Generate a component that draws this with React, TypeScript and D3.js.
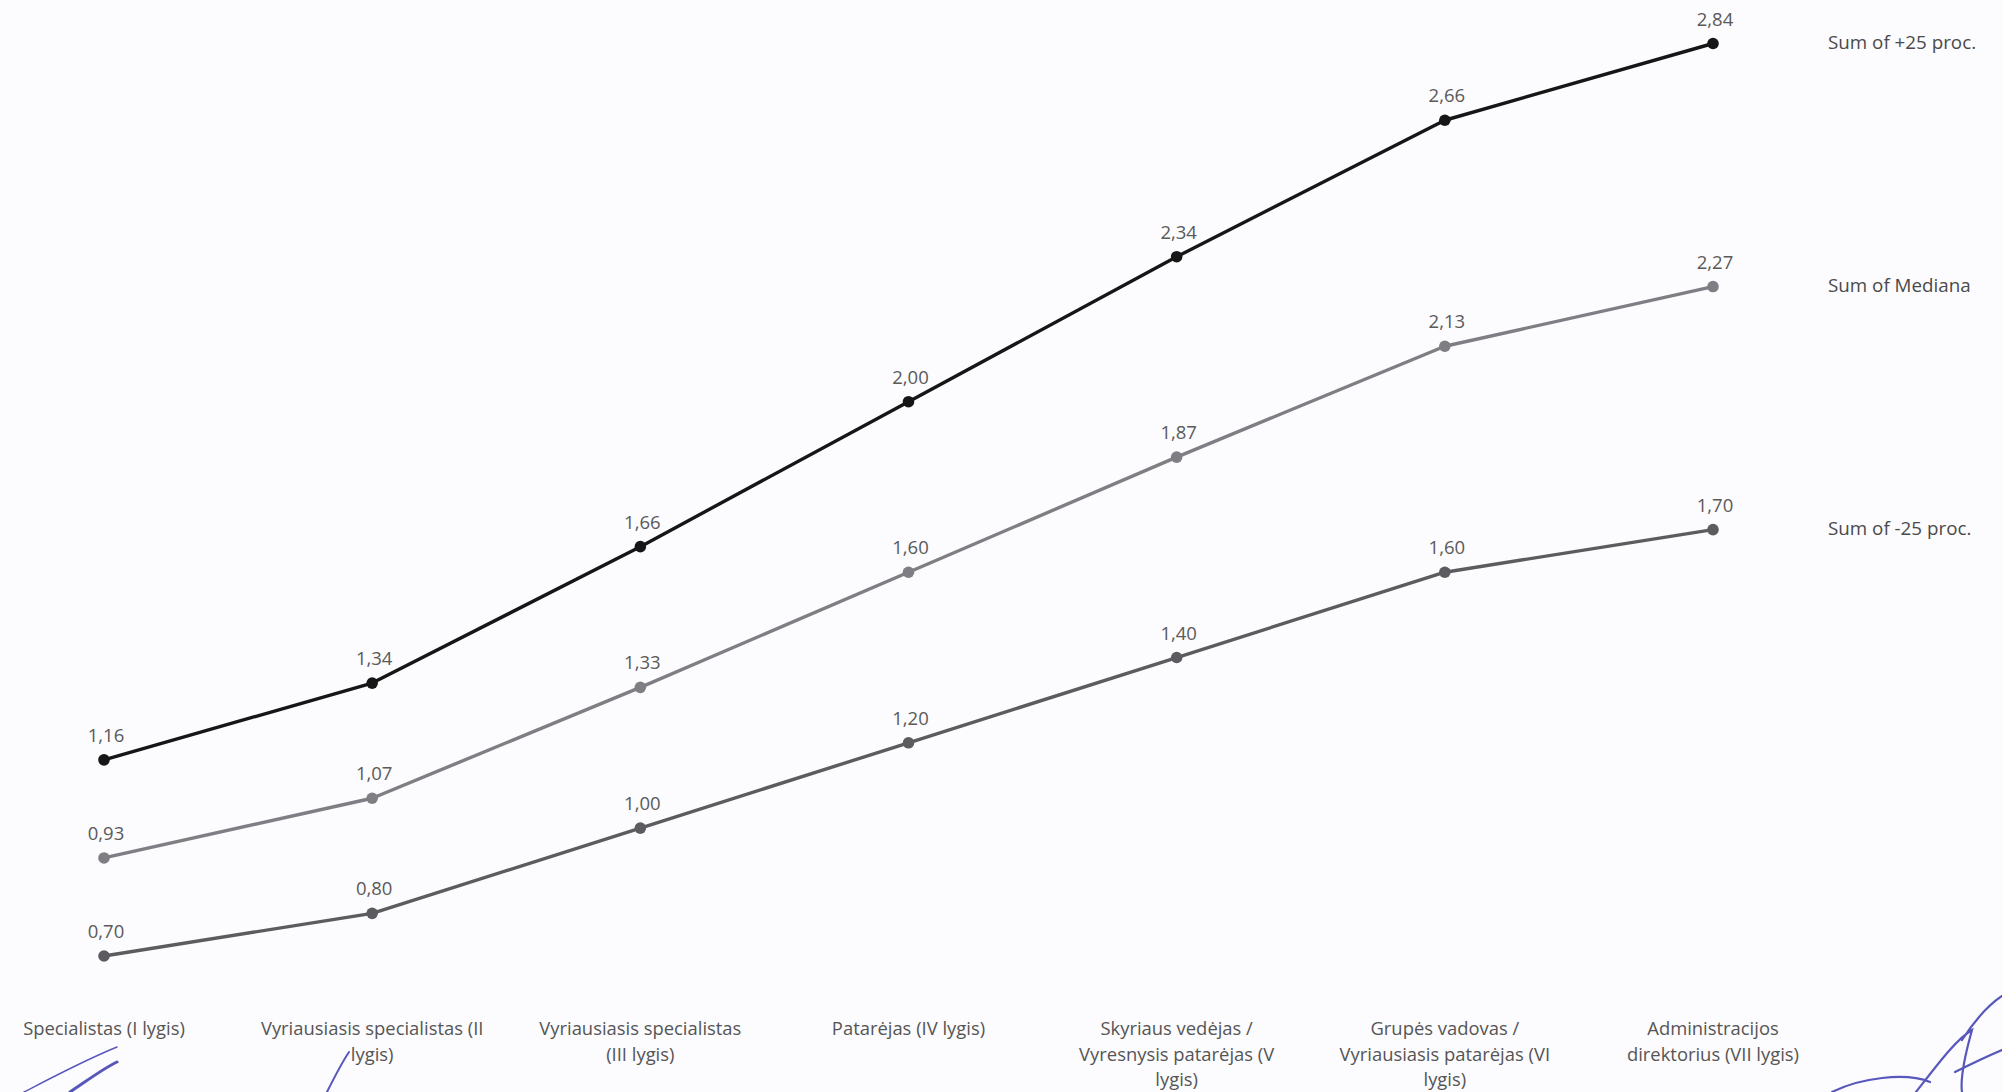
import React from "react";
import * as d3 from "d3";

const categoryLines: string[][] = [
  ["Specialistas (I lygis)"],
  ["Vyriausiasis specialistas (II", "lygis)"],
  ["Vyriausiasis specialistas", "(III lygis)"],
  ["Patarėjas (IV lygis)"],
  ["Skyriaus vedėjas /", "Vyresnysis patarėjas (V", "lygis)"],
  ["Grupės vadovas /", "Vyriausiasis patarėjas (VI", "lygis)"],
  ["Administracijos", "direktorius (VII lygis)"],
];
const categories = categoryLines.map((l) => l.join(" "));

const plus25 = [1.16, 1.34, 1.66, 2.0, 2.34, 2.66, 2.84];
const mediana = [0.93, 1.07, 1.33, 1.6, 1.87, 2.13, 2.27];
const minus25 = [0.7, 0.8, 1.0, 1.2, 1.4, 1.6, 1.7];

const seriesNames = ["Sum of +25 proc.", "Sum of Mediana", "Sum of -25 proc."];
const seriesValues = [plus25, mediana, minus25];
const seriesColors = ["#161616", "#7e7e84", "#5c5c60"];

const W = 2002;
const H = 1092;
const FONT = "'Open Sans', 'Noto Sans', sans-serif";

export default function App() {
  const x = d3.scalePoint<string>().domain(categories).range([104, 1713]);
  const y = d3.scaleLinear().domain([0.7, 2.84]).range([956, 43.5]);
  const fmt = (v: number) => d3.format(".2f")(v).replace(".", ",");

  return (
    <svg
      width={W}
      height={H}
      style={{ position: "absolute", left: 0, top: 0, display: "block" }}
      fontFamily={FONT}
    >
      <rect x={0} y={0} width={W} height={H} fill="#fcfbfd" />
      {seriesValues.map((vals, si) => {
        const line = d3
          .line<number>()
          .x((_, i) => x(categories[i]) as number)
          .y((d) => y(d));
        return (
          <g key={si}>
            <path
              d={line(vals) || ""}
              fill="none"
              stroke={seriesColors[si]}
              strokeWidth={3.4}
              strokeLinejoin="round"
            />
            {vals.map((v, i) => (
              <g key={i}>
                <circle
                  cx={x(categories[i]) as number}
                  cy={y(v)}
                  r={5.8}
                  fill={seriesColors[si]}
                />
                <text
                  x={(x(categories[i]) as number) + 2}
                  y={y(v) - 18}
                  textAnchor="middle"
                  fontSize={18.5}
                  fill="#5a5a5a"
                >
                  {fmt(v)}
                </text>
              </g>
            ))}
            <text
              x={1828}
              y={y(vals[vals.length - 1]) - 2}
              dominantBaseline="central"
              fontSize={18.8}
              fill="#4a4a4a"
            >
              {seriesNames[si]}
            </text>
          </g>
        );
      })}
      {categoryLines.map((lines, i) => (
        <text
          key={i}
          x={x(categories[i]) as number}
          y={1035}
          textAnchor="middle"
          fontSize={18.4}
          fill="#555555"
        >
          {lines.map((l, j) => (
            <tspan key={j} x={x(categories[i]) as number} dy={j === 0 ? 0 : 25.5}>
              {l}
            </tspan>
          ))}
        </text>
      ))}
      <g fill="none" stroke="#3b3bb0" strokeLinecap="round" opacity={0.85}>
        <path d="M24,1092 C55,1076 85,1060 117,1047" strokeWidth={1.5} />
        <path d="M70,1092 C88,1080 104,1068 117,1062" strokeWidth={3} />
        <path d="M327,1092 C334,1078 341,1064 349,1052" strokeWidth={2} />
        <path
          d="M1832,1092 C1860,1078 1905,1072 1930,1082 M1916,1092 C1935,1068 1955,1040 1972,1030 C1965,1055 1960,1078 1962,1092 M1955,1072 C1975,1062 1990,1055 2002,1050 M1962,1040 C1975,1020 1990,1004 2002,996"
          strokeWidth={2.2}
        />
      </g>
    </svg>
  );
}
